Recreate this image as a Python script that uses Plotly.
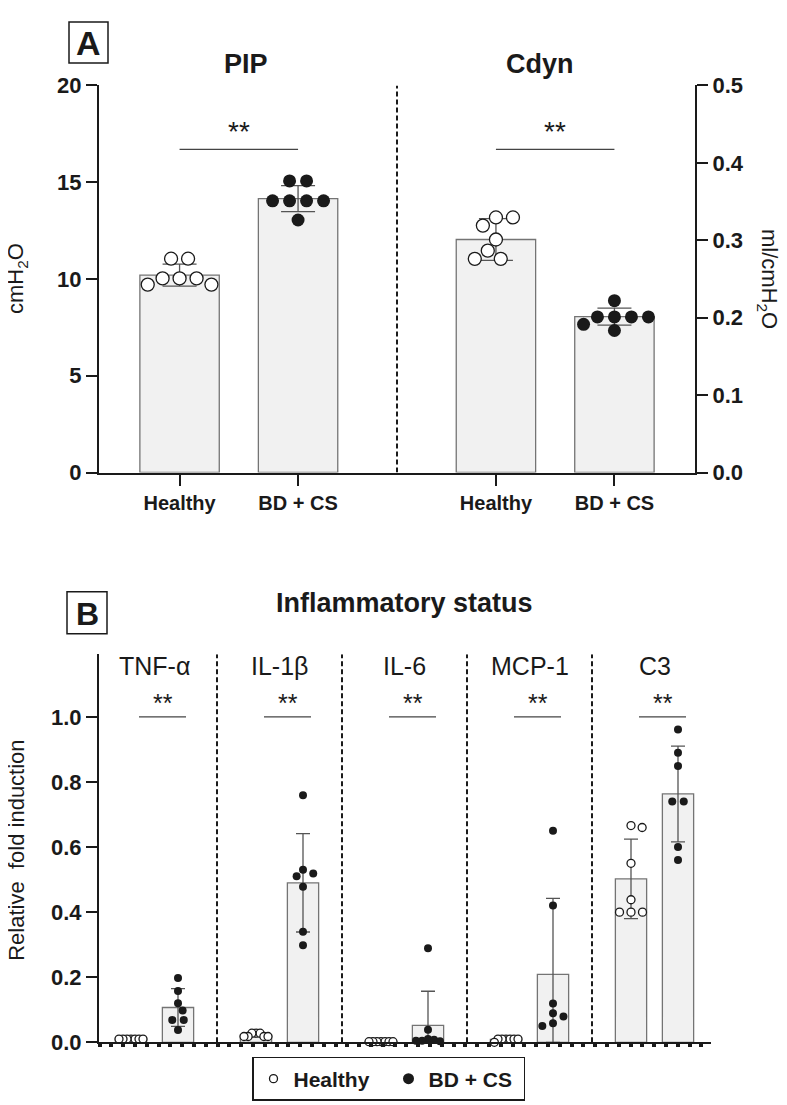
import numpy as np
import plotly.graph_objects as go

# ---------------- panel A: lung mechanics ----------------
conditions = ["Healthy", "BD + CS"]
measures = ["PIP", "Cdyn"]

pip_healthy = [11.05, 11.05, 10.03, 10.03, 10.03, 9.71, 9.71]
pip_bdcs = [15.07, 15.07, 14.04, 14.04, 14.04, 14.04, 13.05]
pip_mean = [10.2, 14.15]
pip_sd = [0.57, 0.67]

cdyn_healthy = [0.3295, 0.3295, 0.319, 0.301, 0.2866, 0.276, 0.276]
cdyn_bdcs = [0.222, 0.201, 0.201, 0.201, 0.201, 0.1915, 0.1835]
cdyn_mean = [0.301, 0.2015]
cdyn_sd = [0.027, 0.011]

pip_ticks = [0, 5, 10, 15, 20]
cdyn_ticks = [0.0, 0.1, 0.2, 0.3, 0.4, 0.5]

# ---------------- panel B: inflammatory status ----------------
genes = ["TNF-α", "IL-1β", "IL-6", "MCP-1", "C3"]
healthy_points = [
    [0.01, 0.01, 0.01, 0.01, 0.01, 0.01, 0.01],
    [0.028, 0.028, 0.028, 0.018, 0.018, 0.018, 0.018],
    [0.002, 0.002, 0.002, 0.002, 0.002, 0.002, 0.002],
    [0.01, 0.01, 0.01, 0.01, 0.01, 0.01, 0.0],
    [0.666, 0.66, 0.55, 0.438, 0.40, 0.40, 0.40],
]
bdcs_points = [
    [0.198, 0.158, 0.12, 0.098, 0.069, 0.069, 0.038],
    [0.759, 0.53, 0.519, 0.51, 0.478, 0.34, 0.298],
    [0.289, 0.039, 0.01, 0.008, 0.005, 0.005, 0.003],
    [0.65, 0.42, 0.119, 0.089, 0.079, 0.059, 0.05],
    [0.961, 0.89, 0.849, 0.74, 0.74, 0.60, 0.56],
]
healthy_mean = [0.01, 0.022, 0.002, 0.009, 0.502]
healthy_sd = [0.002, 0.005, 0.001, 0.004, 0.122]
bdcs_mean = [0.107, 0.49, 0.052, 0.209, 0.763]
bdcs_sd = [0.058, 0.151, 0.105, 0.233, 0.147]
fold_ticks = [0.0, 0.2, 0.4, 0.6, 0.8, 1.0]

# ---------------- geometry ----------------
W, H = 787, 1105
FONT = "Liberation Sans, Arial, sans-serif"
INK = "#1a1a1a"
BAR_FILL = "#f1f1f1"
BAR_LINE = "#747474"
ERR = "#555555"

A_L, A_R, A_T, A_B = 91, 687, 67, 463
B_L, B_R, B_T, B_B = 91, 703, 649, 1046
A_XRANGE = [0, 5.03]
B_XRANGE = [-0.444, 4.452]
A_PXX = (A_R - A_L) / (A_XRANGE[1] - A_XRANGE[0])
B_PXX = (B_R - B_L) / (B_XRANGE[1] - B_XRANGE[0])


def px(x):
    return x / W


def py(y):
    return 1 - y / H


def swarm_offsets(values, px_per_y, marker, step, limit):
    """simple beeswarm, offsets in pixels"""
    ys = [v * px_per_y for v in values]
    xs = []
    for i, y in enumerate(ys):
        blocked = []
        for yj, xj in zip(ys[:i], xs):
            dy = abs(y - yj)
            if dy < marker:
                half = step * np.sqrt(1 - (dy / marker) ** 2)
                blocked.append((xj - half, xj + half))
        cands = [0.0] + [a for a, _ in blocked] + [b for _, b in blocked]
        free = [c for c in cands if not any(a + 1e-6 < c < b - 1e-6 for a, b in blocked)]
        lean = sum(xs)
        free.sort(key=lambda c: (round(abs(c), 3), c if lean > 0 else -c))
        xs.append(free[0])
    xs = np.array(xs, dtype=float)
    ys = np.array(ys)
    # centre rows of equal values that are clear of the other points
    for v in set(values):
        idx = [k for k, w in enumerate(values) if w == v]
        others = [k for k, w in enumerate(values) if w != v]
        if len(idx) > 1 and all(abs(ys[k] - v * px_per_y) >= marker for k in others):
            xs[idx] -= xs[idx].mean()
    span = np.abs(xs).max()
    if span > limit:
        xs *= limit / span
    return xs


def dot_style(filled, size):
    if filled:
        return dict(symbol="circle", size=size, color=INK, line=dict(color=INK, width=0))
    return dict(symbol="circle", size=size, color="white", line=dict(color=INK, width=1.3))


def label(text, x, y, size, xref="paper", yref="paper", **kw):
    return dict(text=text, x=x, y=y, xref=xref, yref=yref, showarrow=False,
                xanchor=kw.pop("xanchor", "center"), yanchor=kw.pop("yanchor", "middle"),
                font=dict(size=size), **kw)


fig = go.Figure()

# ---------------- panel A traces ----------------
a_x = [[0.68 + g * 2.67 + c for c in range(2)] for g in range(2)]
a_sets = [
    ("y", pip_mean, pip_sd, [pip_healthy, pip_bdcs], (A_B - A_T) / 20),
    ("y2", cdyn_mean, cdyn_sd, [cdyn_healthy, cdyn_bdcs], (A_B - A_T) / 0.5),
]
for g, (yax, means, sds, pts, pxy) in enumerate(a_sets):
    fig.add_trace(go.Bar(
        x=a_x[g], y=means, width=0.67, xaxis="x", yaxis=yax,
        marker=dict(color=BAR_FILL, line=dict(color=BAR_LINE, width=1.3)),
        error_y=dict(type="data", array=sds, color=ERR, thickness=1.3, width=17),
        showlegend=False, hoverinfo="skip",
    ))
    for c in range(2):
        offs = swarm_offsets(pts[c], pxy, 13, 17, 36)
        fig.add_trace(go.Scatter(
            x=a_x[g][c] + offs / A_PXX, y=pts[c], mode="markers",
            xaxis="x", yaxis=yax, marker=dot_style(c == 1, 13),
            cliponaxis=False, showlegend=False, hoverinfo="skip",
        ))

# ---------------- panel B traces ----------------
b_x = [[i - 0.188, i + 0.188] for i in range(len(genes))]
b_pxy = (B_B - B_T) / 1.192
for c, (means, sds, pts) in enumerate([(healthy_mean, healthy_sd, healthy_points),
                                      (bdcs_mean, bdcs_sd, bdcs_points)]):
    fig.add_trace(go.Bar(
        x=[b[c] for b in b_x], y=means, width=0.25, xaxis="x2", yaxis="y3",
        marker=dict(color=BAR_FILL, line=dict(color=BAR_LINE, width=1.3)),
        error_y=dict(type="data", array=sds, arrayminus=[min(s, m) for s, m in zip(sds, means)],
                     color=ERR, thickness=1.3, width=7),
        showlegend=False, hoverinfo="skip",
    ))
    for i in range(len(genes)):
        offs = swarm_offsets(pts[i], b_pxy, 8, 11.5, 12)
        fig.add_trace(go.Scatter(
            x=b_x[i][c] + offs / B_PXX, y=pts[i], mode="markers",
            xaxis="x2", yaxis="y3", marker=dot_style(c == 1, 8),
            cliponaxis=False, showlegend=False, hoverinfo="skip",
        ))

# legend entries
for c, name in enumerate(conditions):
    fig.add_trace(go.Scatter(
        x=[None], y=[None], mode="markers", name=name, xaxis="x2", yaxis="y3",
        marker=dot_style(c == 1, 8 if c == 0 else 11),
    ))

# ---------------- shapes ----------------
shapes = []
# divider between PIP and Cdyn
shapes.append(dict(type="line", xref="x", yref="y", x0=np.mean(a_x), x1=np.mean(a_x), y0=0, y1=20,
                   line=dict(color=INK, width=2, dash="5px,3px")))
for i in range(len(genes) - 1):
    shapes.append(dict(type="line", xref="x2", yref="y3", x0=i + 0.5, x1=i + 0.5, y0=0, y1=1.192,
                       line=dict(color=INK, width=2, dash="5px,3px")))

# significance bars
sig_a = [("y", 16.7), ("y2", 0.4175)]
for g, (yref, lvl) in enumerate(sig_a):
    shapes.append(dict(type="line", xref="x", yref=yref, x0=a_x[g][0], x1=a_x[g][1], y0=lvl, y1=lvl,
                       line=dict(color="#444", width=1.2)))
for i in range(len(genes)):
    shapes.append(dict(type="line", xref="x2", yref="y3", x0=b_x[i][0] + 0.064, x1=b_x[i][1] + 0.064,
                       y0=1.0, y1=1.0, line=dict(color="#444", width=1.2)))

# panel letter boxes
shapes.append(dict(type="rect", xref="paper", yref="paper", x0=px(61), x1=px(100), y0=py(44), y1=py(2),
                   line=dict(color=INK, width=1.5)))
shapes.append(dict(type="rect", xref="paper", yref="paper", x0=px(59), x1=px(99), y0=py(628), y1=py(585),
                   line=dict(color=INK, width=1.5)))

# ---------------- annotations ----------------
ann = [
    label("<b>A</b>", px(80.5), py(24), 34),
    label("<b>B</b>", px(79), py(607.5), 32),
    label("<b>PIP</b>", px(238), py(45), 27),
    label("<b>Cdyn</b>", px(532), py(45), 27),
    label("<b>Inflammatory status</b>", px(396), py(597), 27),
    label("cmH<sub>2</sub>O", px(9), py(265), 22, textangle=-90),
    label("ml/cmH<sub>2</sub>O", px(760), py(265), 22, textangle=90),
    label("Relative\u00a0 fold induction", px(9), py(850), 22, textangle=-90),
]
for g, (yref, lvl) in enumerate(sig_a):
    ann.append(label("**", np.mean(a_x[g]), lvl, 28, xref="x", yref=yref, yanchor="bottom", yshift=0))
for i, gene in enumerate(genes):
    ann.append(label(gene, i, py(661), 25, xref="x2"))
    ann.append(label("**", i + 0.064, 1.0, 25, xref="x2", yref="y3", yanchor="bottom", yshift=-2))

axis_common = dict(showline=True, linecolor=INK, linewidth=2, ticks="outside", tickcolor=INK,
                   tickwidth=2, ticklen=11, showgrid=False, zeroline=False,
                   tickfont=dict(size=22, weight="bold"))

fig.update_layout(
    width=W, height=H, margin=dict(l=0, r=0, t=0, b=0),
    paper_bgcolor="white", plot_bgcolor="white", barmode="overlay",
    font=dict(family=FONT, color=INK),
    xaxis=dict(axis_common, domain=[px(A_L), px(A_R)], range=A_XRANGE, anchor="y",
               tickvals=[p for grp in a_x for p in grp], ticktext=conditions * 2,
               tickfont=dict(size=20, weight="bold")),
    yaxis=dict(axis_common, domain=[py(A_B), py(A_T)], range=[0, 20], anchor="x", tickvals=pip_ticks),
    yaxis2=dict(axis_common, overlaying="y", side="right", anchor="x", range=[0, 0.5],
                tickvals=cdyn_ticks, tickformat=".1f"),
    xaxis2=dict(axis_common, domain=[px(B_L), px(B_R)], range=B_XRANGE, anchor="y3",
                ticklen=3, tickwidth=4, tick0=-0.345, dtick=0.0944, showticklabels=False),
    yaxis3=dict(axis_common, domain=[py(B_B), py(B_T)], range=[0, 1.192], anchor="x2",
                tickvals=fold_ticks, tickformat=".1f"),
    shapes=shapes, annotations=ann,
    showlegend=True,
    legend=dict(orientation="h", x=px(244), xanchor="left", y=py(1061), yanchor="top",
                bordercolor=INK, borderwidth=1.5, font=dict(size=21, weight="bold"),
                entrywidth=90, itemclick=False),
)

fig.write_html("out.html")
